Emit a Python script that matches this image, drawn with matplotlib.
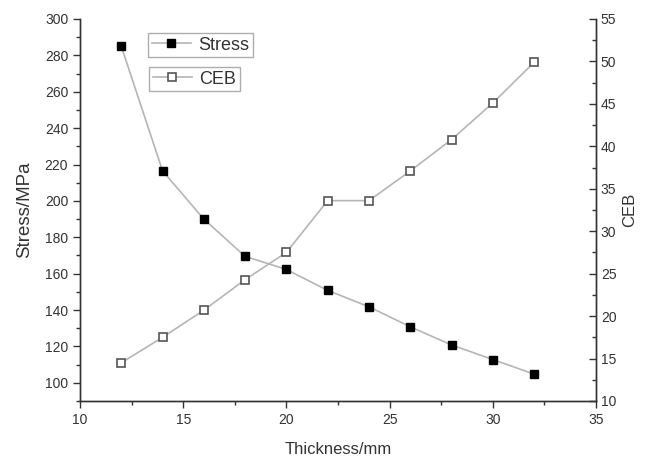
import matplotlib.pyplot as plt
from matplotlib.ticker import MultipleLocator

plt.rcParams['font.family'] = ['Liberation Sans', 'DejaVu Sans']

thickness = [12, 14, 16, 18, 20, 22, 24, 26, 28, 30, 32]
stress = [285, 216.5, 190, 169.5, 162.3, 150.8, 141.8, 130.8, 120.8, 112.8, 104.8]
ceb = [14.5, 17.5, 20.7, 24.3, 27.5, 33.6, 33.6, 37.1, 40.8, 45.1, 49.9]

ink = '#333333'
line_c = '#b5b5b5'

fig = plt.figure(figsize=(6.51, 4.59), dpi=100)
ax = fig.add_axes([80 / 651, 1 - 401 / 459, 516 / 651, 382 / 459])
ax2 = ax.twinx()

h1, = ax.plot(thickness, stress, '-', color=line_c, lw=1.2, marker='s', ms=6,
              mfc='black', mec='black', label='Stress')
h2, = ax2.plot(thickness, ceb, '-', color=line_c, lw=1.2, marker='s', ms=6,
               mfc='white', mec='#555555', mew=1.2, label='CEB')

ax.set_xlim(10, 35)
ax.set_ylim(90, 300)
ax2.set_ylim(10, 55)

ax.xaxis.set_major_locator(MultipleLocator(5))
ax.xaxis.set_minor_locator(MultipleLocator(2.5))
ax.yaxis.set_major_locator(MultipleLocator(20))
ax.yaxis.set_minor_locator(MultipleLocator(10))
ax2.yaxis.set_major_locator(MultipleLocator(5))
ax2.yaxis.set_minor_locator(MultipleLocator(2.5))

for a in (ax, ax2):
    a.spines['top'].set_visible(False)
    for s in a.spines.values():
        s.set_color(ink)
        s.set_linewidth(1.0)

ax.tick_params(axis='both', which='major', direction='out', length=5, width=1,
               colors=ink, labelsize=10)
ax.tick_params(axis='both', which='minor', direction='out', length=3, width=1, colors=ink)
ax2.tick_params(axis='y', which='major', direction='in', length=5, width=1,
                colors=ink, labelsize=10)
ax2.tick_params(axis='y', which='minor', direction='in', length=3, width=1, colors=ink)

ax.set_xlabel('Thickness/mm', fontsize=12, color=ink, labelpad=11)
ax.set_ylabel('Stress/MPa', fontsize=13.5, color=ink, labelpad=8)
ax2.set_ylabel('CEB', fontsize=12, color=ink, labelpad=4)

leg_kw = dict(fontsize=13, frameon=True, fancybox=False, handlelength=2.2,
              borderpad=0.2, handletextpad=0.4, borderaxespad=0)
leg1 = ax2.legend(handles=[h1], loc='upper left',
                  bbox_to_anchor=((148 - 80) / 516, (401 - 33) / 382), **leg_kw)
leg1.get_frame().set_edgecolor('#999999')
ax2.add_artist(leg1)
leg2 = ax2.legend(handles=[h2], loc='upper left',
                  bbox_to_anchor=((149 - 80) / 516, (401 - 67) / 382), **leg_kw)
leg2.get_frame().set_edgecolor('#999999')
for lg in (leg1, leg2):
    for t in lg.get_texts():
        t.set_color(ink)

fig.savefig('out.png', dpi=100)
